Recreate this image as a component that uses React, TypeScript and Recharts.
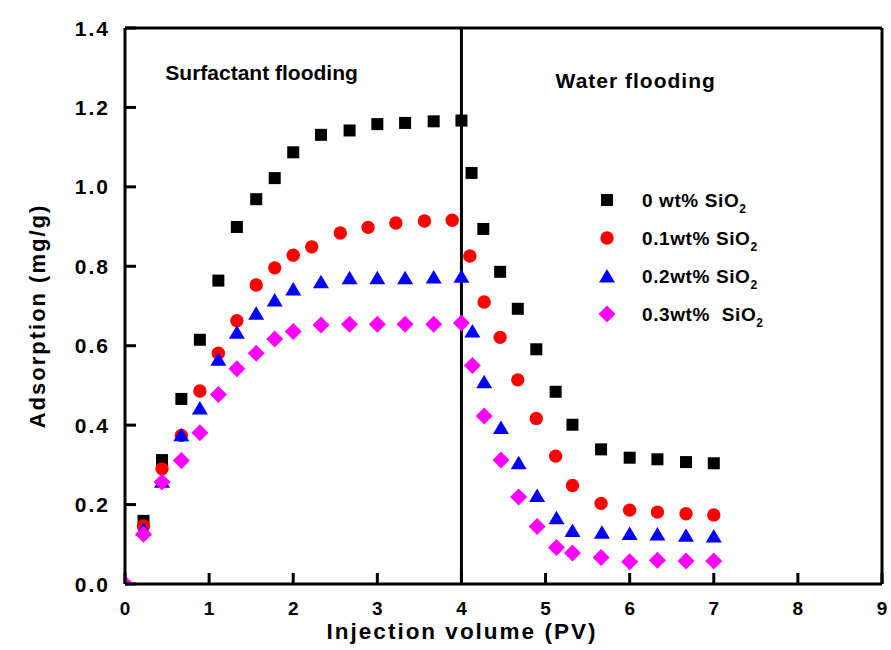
import React from "react";
import { ScatterChart, Scatter, XAxis, YAxis, ReferenceLine, ReferenceDot, Legend } from "recharts";

const FONT = '"Liberation Sans", Arial, Helvetica, sans-serif';

const xTicks = [0, 1, 2, 3, 4, 5, 6, 7, 8, 9];
const yTicks = [0, 0.2, 0.4, 0.6, 0.8, 1.0, 1.2, 1.4];

// 0 wt% SiO2
const x0 = [0.22, 0.44, 0.67, 0.89, 1.11, 1.33, 1.56, 1.78, 2.0, 2.33, 2.67, 3.0, 3.33, 3.67, 4.0, 4.12, 4.26, 4.46, 4.67, 4.89, 5.12, 5.32, 5.66, 6.0, 6.33, 6.67, 7.0];
const y0 = [0.159, 0.312, 0.466, 0.615, 0.764, 0.899, 0.969, 1.022, 1.087, 1.131, 1.142, 1.158, 1.161, 1.165, 1.167, 1.035, 0.894, 0.786, 0.693, 0.591, 0.484, 0.401, 0.339, 0.318, 0.314, 0.307, 0.304];

// 0.1 wt% SiO2
const x1 = [0.22, 0.44, 0.67, 0.89, 1.11, 1.33, 1.56, 1.78, 2.0, 2.22, 2.56, 2.89, 3.22, 3.56, 3.89, 4.1, 4.27, 4.46, 4.67, 4.89, 5.12, 5.32, 5.66, 6.0, 6.33, 6.67, 7.0];
const y1 = [0.146, 0.29, 0.374, 0.486, 0.581, 0.663, 0.753, 0.796, 0.828, 0.849, 0.884, 0.898, 0.909, 0.914, 0.916, 0.826, 0.71, 0.621, 0.514, 0.417, 0.322, 0.248, 0.203, 0.186, 0.181, 0.177, 0.174];

// 0.2 wt% SiO2
const x2 = [0.22, 0.44, 0.67, 0.89, 1.11, 1.33, 1.56, 1.78, 2.0, 2.33, 2.67, 3.0, 3.33, 3.67, 4.0, 4.13, 4.27, 4.47, 4.68, 4.9, 5.13, 5.32, 5.67, 6.0, 6.33, 6.67, 7.0];
const y2 = [0.138, 0.259, 0.376, 0.443, 0.566, 0.634, 0.682, 0.715, 0.743, 0.761, 0.771, 0.771, 0.771, 0.773, 0.775, 0.637, 0.509, 0.394, 0.305, 0.223, 0.167, 0.135, 0.13, 0.127, 0.126, 0.123, 0.121];

// 0.3 wt% SiO2
const x3 = [0, 0.22, 0.44, 0.67, 0.89, 1.11, 1.33, 1.56, 1.78, 2.0, 2.33, 2.67, 3.0, 3.33, 3.67, 4.0, 4.13, 4.27, 4.47, 4.68, 4.9, 5.13, 5.32, 5.66, 6.0, 6.33, 6.67, 7.0];
const y3 = [0, 0.125, 0.257, 0.311, 0.381, 0.477, 0.542, 0.581, 0.617, 0.636, 0.652, 0.654, 0.654, 0.654, 0.654, 0.657, 0.55, 0.423, 0.312, 0.219, 0.145, 0.092, 0.078, 0.067, 0.056, 0.06, 0.058, 0.058];

const seriesLabels = ["0 wt% SiO", "0.1wt% SiO", "0.2wt% SiO", "0.3wt%  SiO"];
const seriesColors = ["#000000", "#ff0000", "#0000ff", "#ff00ff"];

const toPoints = (xs: number[], ys: number[]) => xs.map((x, i) => ({ x, y: ys[i] }));

const Square = ({ cx, cy, fill }: any) => <rect x={cx - 6} y={cy - 6} width={12} height={12} fill={fill} />;
const Dot = ({ cx, cy, fill }: any) => <circle cx={cx} cy={cy} r={6.7} fill={fill} />;
const Tri = ({ cx, cy, fill }: any) => (
  <polygon points={`${cx},${cy - 7} ${cx - 8},${cy + 6.5} ${cx + 8},${cy + 6.5}`} fill={fill} />
);
const Diamond = ({ cx, cy, fill }: any) => (
  <polygon points={`${cx},${cy - 8.5} ${cx + 8.5},${cy} ${cx},${cy + 8.5} ${cx - 8.5},${cy}`} fill={fill} />
);

const shapes = [Square, Dot, Tri, Diamond];
const seriesData = [toPoints(x0, y0), toPoints(x1, y1), toPoints(x2, y2), toPoints(x3, y3)];

const TICK_LEN = 11;
const X_GAP = 19;
const Y_GAP = 15;

// inward tick marks drawn together with the label
const XTick = ({ x, y, payload }: any) => (
  <g>
    <line x1={x} x2={x} y1={y - X_GAP} y2={y - X_GAP - TICK_LEN} stroke="#000" strokeWidth={3} />
    <text x={x} y={y + 12} textAnchor="middle" fontFamily={FONT} fontWeight="bold" fontSize={19} fill="#000">
      {payload.value}
    </text>
  </g>
);

const YTick = ({ x, y, payload }: any) => (
  <g>
    <line x1={x + Y_GAP} x2={x + Y_GAP + TICK_LEN} y1={y} y2={y} stroke="#000" strokeWidth={3} />
    <text x={x} y={y + 7.5} textAnchor="end" fontFamily={FONT} fontWeight="bold" fontSize={21} letterSpacing={2} fill="#000">
      {Number(payload.value).toFixed(1)}
    </text>
  </g>
);

const LegendBox = () => (
  <svg width={210} height={150} style={{ display: "block" }}>
    {seriesLabels.map((label, i) => {
      const cy = 20 + i * 38;
      const Shape = shapes[i];
      return (
        <g key={label}>
          <Shape cx={17} cy={cy} fill={seriesColors[i]} />
          <text
            x={52}
            y={cy + 7}
            fontFamily={FONT}
            fontWeight="bold"
            fontSize={19}
            letterSpacing={0.6}
            style={{ whiteSpace: "pre" }}
          >
            {label}
            <tspan dx={0} dy={6} fontSize={12}>2</tspan>
          </text>
        </g>
      );
    })}
  </svg>
);

export default function App() {
  const axisStyle = { stroke: "#000", strokeWidth: 3 };
  return (
    <div style={{ position: "absolute", left: 0, top: 0, background: "#fff" }}>
      <ScatterChart width={891} height={650} margin={{ top: 28, right: 9, bottom: 0, left: 0 }}>
        <XAxis
          type="number"
          dataKey="x"
          domain={[0, 9]}
          ticks={xTicks}
          allowDataOverflow
          height={66}
          axisLine={axisStyle}
          tickLine={false}
          tickSize={0}
          tickMargin={X_GAP}
          tick={<XTick />}
          label={{
            content: () => (
              <text x={462} y={639} textAnchor="middle" fontFamily={FONT} fontWeight="bold" fontSize={22.5} letterSpacing={2} fill="#000">
                Injection volume (PV)
              </text>
            ),
          }}
        />
        <YAxis
          type="number"
          dataKey="y"
          domain={[0, 1.4]}
          ticks={yTicks}
          allowDataOverflow
          width={125}
          axisLine={axisStyle}
          tickLine={false}
          tickSize={0}
          tickMargin={Y_GAP}
          tick={<YTick />}
          label={{
            content: () => (
              <text x={45} y={316} transform="rotate(-90 45 316)" textAnchor="middle" fontFamily={FONT} fontWeight="bold" fontSize={22} letterSpacing={2} fill="#000">
                Adsorption (mg/g)
              </text>
            ),
          }}
        />
        <ReferenceLine y={1.4} stroke="#000" strokeWidth={3} />
        <ReferenceLine x={9} stroke="#000" strokeWidth={3} />
        <ReferenceLine x={4} stroke="#000" strokeWidth={3} />
        <ReferenceDot
          x={1.624}
          y={1.288}
          r={0}
          stroke="none"
          fill="none"
          label={{ value: "Surfactant flooding", position: "center", fill: "#000", fontSize: 21, fontWeight: "bold", fontFamily: FONT }}
        />
        <ReferenceDot
          x={6.072}
          y={1.268}
          r={0}
          stroke="none"
          fill="none"
          label={{ value: "Water flooding", position: "center", fill: "#000", fontSize: 21, fontWeight: "bold", fontFamily: FONT, letterSpacing: 1 }}
        />
        {seriesData.map((d, i) => {
          const Shape = shapes[i];
          return (
            <Scatter
              key={seriesLabels[i]}
              name={seriesLabels[i]}
              data={d}
              fill={seriesColors[i]}
              isAnimationActive={false}
              shape={(p: any) => <Shape cx={p.cx} cy={p.cy} fill={seriesColors[i]} />}
            />
          );
        })}
        <Legend
          layout="vertical"
          align="center"
          verticalAlign="middle"
          wrapperStyle={{ left: 590, top: 180, width: 210, height: 150 }}
          content={() => <LegendBox />}
        />
      </ScatterChart>
    </div>
  );
}
